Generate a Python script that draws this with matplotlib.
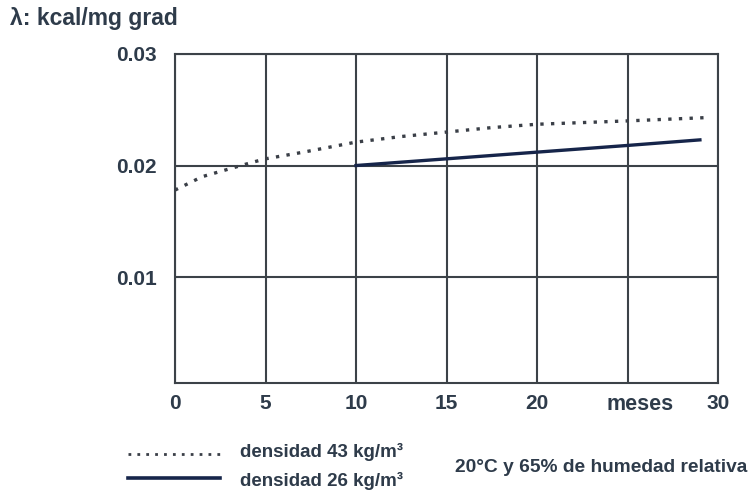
import matplotlib
matplotlib.use("Agg")
import matplotlib.pyplot as plt

plt.rcParams['font.family'] = ['Liberation Sans', 'DejaVu Sans']

# Data (months, lambda kcal/m h grad)
months_43 = [0, 1.5, 3, 4.3, 5, 7.1, 10, 12.5, 15, 17.5, 20, 25, 29.4]
lam_43 = [0.0178, 0.0190, 0.0197, 0.0203, 0.0206, 0.0212, 0.0221, 0.0226, 0.0230, 0.0234, 0.0237, 0.0240, 0.0243]
months_26 = [10, 15, 20, 25, 29.0]
lam_26 = [0.0200, 0.0206, 0.0212, 0.0218, 0.0223]

x_ticks = [0, 5, 10, 15, 20, 25, 30]
x_tick_labels = ['0', '5', '10', '15', '20', '', '30']
y_ticks = [0.01, 0.02, 0.03]
y_tick_labels = ['0.01', '0.02', '0.03']

txt = '#2e3b4a'
gridc = '#3c4248'

fig = plt.figure(figsize=(7.55, 4.94), dpi=100)
ax = fig.add_axes([0.2318, 0.2247, 0.951 - 0.2318, 0.8907 - 0.2247])

ax.plot(months_43, lam_43, linestyle=(0, (1, 2.2)), color='#3a3f47', lw=2.4,
        dash_capstyle='butt', zorder=3)
ax.plot(months_26, lam_26, linestyle='-', color='#16254a', lw=2.4, zorder=3)

ax.set_xlim(0, 30)
ax.set_ylim(0.0005, 0.03)
ax.set_xticks(x_ticks)
ax.set_xticklabels(x_tick_labels)
ax.set_yticks(y_ticks)
ax.set_yticklabels(y_tick_labels)
ax.grid(True, color=gridc, lw=1.5, zorder=1)
ax.tick_params(length=0, labelsize=15, colors=txt)
ax.tick_params(axis='x', pad=8)
ax.tick_params(axis='y', pad=13)
for lab in ax.get_xticklabels() + ax.get_yticklabels():
    lab.set_fontweight('bold')
for s in ax.spines.values():
    s.set_color(gridc)
    s.set_linewidth(1.5)

ax.text(25.7, -0.0005, 'meses', ha='center', va='top', fontsize=15.5,
        fontweight='bold', color=txt)

fig.text(10 / 755, 1 - 19 / 494, 'λ: kcal/mg grad', ha='left', va='center',
         fontsize=16.5, fontweight='bold', color=txt)

# Legend drawn manually
fig.add_artist(plt.Line2D([128 / 755, 220 / 755], [1 - 454 / 494] * 2,
                          linestyle=(0, (1, 2.2)), color='#3a3f47', lw=2.0))
fig.add_artist(plt.Line2D([128 / 755, 220 / 755], [1 - 478 / 494] * 2,
                          linestyle='-', color='#16254a', lw=2.6))
fig.text(240 / 755, 1 - 452 / 494, 'densidad 43 kg/m³', ha='left', va='center',
         fontsize=13.5, fontweight='bold', color=txt)
fig.text(240 / 755, 1 - 481 / 494, 'densidad 26 kg/m³', ha='left', va='center',
         fontsize=13.5, fontweight='bold', color=txt)
fig.text(455 / 755, 1 - 467 / 494, '20°C y 65% de humedad relativa', ha='left',
         va='center', fontsize=13.8, fontweight='bold', color=txt)

fig.savefig('out.png', dpi=100)
